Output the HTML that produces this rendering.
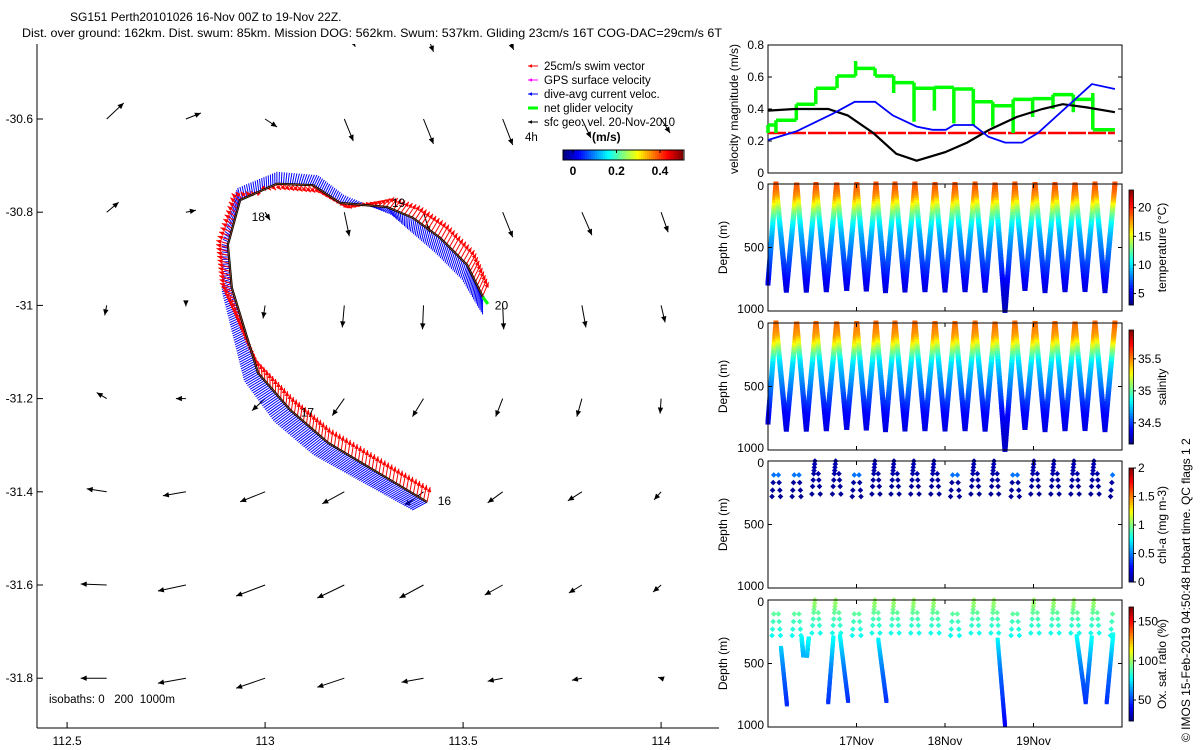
<!DOCTYPE html>
<html><head><meta charset="utf-8"><style>
html,body{margin:0;padding:0;background:#fff;}
svg{display:block;font-family:"Liberation Sans",Arial,sans-serif;}
</style></head><body>
<svg id="fig" width="1200" height="750" viewBox="0 0 1200 750" xmlns="http://www.w3.org/2000/svg">
<rect x="0" y="0" width="1200" height="750" fill="#fff"/>
<defs>
<clipPath id="mapclip"><rect x="37" y="44" width="682" height="684"/></clipPath>
</defs>
<text x="70" y="21" font-size="12">SG151 Perth20101026 16-Nov 00Z to 19-Nov 22Z.</text>
<text x="22" y="37" font-size="12" textLength="700" lengthAdjust="spacingAndGlyphs">Dist. over ground: 162km. Dist. swum: 85km. Mission DOG: 562km. Swum: 537km. Gliding 23cm/s 16T COG-DAC=29cm/s 6T</text>
<g id="map"></g>
<g id="right"></g>
<text transform="translate(1190,742) rotate(-90)" font-size="12">© IMOS 15-Feb-2019 04:50:48 Hobart time. QC flags 1  2</text>
</svg>
<script>
// ---------------- DATA ----------------
const lonTicks = [112.5, 113, 113.5, 114];
const latTicks = [-30.6, -30.8, -31, -31.2, -31.4, -31.6, -31.8];
const gridLon = [112.6,112.8,113.0,113.2,113.4,113.6,113.8,114.0];
const gridLat = [-30.4,-30.6,-30.8,-31.0,-31.2,-31.4,-31.6,-31.8];
const geoU = [
 [0,0,0,11,10,11,0,0],
 [17,15,12,9,10,10,9,9],
 [12,10,5,5,6,10,10,7],
 [-2,0,-2,-2,-1,1,4,4],
 [-10,-10,-13,-12,-11,-7,-5,-1],
 [-20,-23,-25,-22,-19,-15,-14,-7],
 [-26,-28,-29,-27,-24,-18,-13,-8],
 [-26,-28,-29,-27,-22,-15,-10,-3]];
const geoV = [
 [0,0,0,21,26,24,0,0],
 [-16,-6,8,22,25,26,19,14],
 [-10,-2,8,24,20,25,23,20],
 [10,1,13,22,24,24,22,17],
 [-6,0,12,17,18,18,18,15],
 [-3,4,10,12,14,11,9,8],
 [-1,6,11,13,13,10,8,7],
 [0,5,10,9,4,3,2,-1]];
const trackLon = [113.409,113.159,113.063,112.982,112.916,112.906,112.937,113.030,113.121,113.189,113.308,113.373,113.442,113.510,113.550];
const trackLat = [-31.422,-31.295,-31.224,-31.145,-30.962,-30.870,-30.774,-30.739,-30.742,-30.780,-30.789,-30.812,-30.855,-30.913,-30.982];
const dacU = [-15,-15,-16,-14,-10,-6,-3,0,5,4,5,-2,-5,-5,0];
const dacV = [8,12,12,8,4,-2,-12,-12,-10,-8,8,14,15,15,18];
const swimU = [3,2,2,-2,-12,-12,-8,6,8,10,8,8,8,8,6];
const swimV = [-15,-15,-14,-14,-4,-3,-8,6,8,6,-10,-12,-14,-14,-14];
const dayLabels = ["16","17","18","19","20"];
const dayLabelLon = [113.436,113.09,112.966,113.32,113.58];
const dayLabelLat = [-31.42,-31.23,-30.81,-30.78,-31.0];

const velTicks = [0,0.2,0.4,0.6,0.8];
const blackT = [0,0.3,0.68,0.9,1.19,1.45,1.68,2.0,2.25,2.5,2.81,3.1,3.33,3.6,3.92];
const blackV = [0.39,0.40,0.40,0.36,0.25,0.12,0.077,0.13,0.19,0.27,0.35,0.40,0.43,0.41,0.38];
const blueT = [0,0.32,0.73,0.98,1.21,1.41,1.68,1.86,2.01,2.1,2.32,2.49,2.68,2.87,3.05,3.66,3.92];
const blueV = [0.206,0.26,0.37,0.445,0.445,0.36,0.29,0.27,0.27,0.30,0.30,0.227,0.19,0.19,0.25,0.556,0.525];
const greenT0 = [0,0.09,0.32,0.54,0.78,0.99,1.21,1.42,1.65,1.88,2.1,2.32,2.54,2.77,2.99,3.22,3.45,3.67];
const greenT1 = [0.07,0.32,0.53,0.77,0.99,1.21,1.42,1.65,1.88,2.1,2.32,2.54,2.77,2.99,3.22,3.45,3.67,3.92];
const greenV = [0.30,0.33,0.43,0.53,0.606,0.654,0.606,0.565,0.53,0.535,0.525,0.445,0.42,0.46,0.465,0.49,0.46,0.27];
const greenSpike = [0.25,0.25,0.43,0.53,0.606,0.70,0.606,0.50,0.32,0.39,0.31,0.30,0.29,0.25,0.35,0.40,0.38,0.50];
const swimSpeed = 0.25;

const surfT = [0.09,0.324,0.542,0.776,1.002,1.22,1.435,1.66,1.887,2.113,2.34,2.566,2.79,3.017,3.243,3.469,3.695,3.92];
const troughD = [840,840,840,830,835,840,835,840,835,840,840,1000,830,840,840,835,840];
const startDepth = 780;
const depthTicks = [0,500,1000];
const dayTicks = ["17Nov","18Nov","19Nov"];
const dayTickT = [1,2,3];
const profD = [0,50,100,150,200,250,300,400,500,600,700,800,900,1000];
const tempP = [19,18.5,17.5,15.5,13.5,12,10.5,9,8,7,6,5,4.5,4];
const salP = [35.55,35.5,35.45,35.3,35.1,34.95,34.8,34.7,34.6,34.5,34.4,34.35,34.3,34.3];
const chlP = [0.1,0.1,0.08,0.06,0.05,0.05,0.04,0.04,0.04,0.04,0.04,0.04,0.04,0.04];
const oxP = [100,98,92,88,85,82,78,70,62,56,52,48,44,40];
const surfCol = [0,0,1,1,0,1,1,1,1,0,1,1,0,1,1,1,1,0];
const oxSegT0 = [0.147,0.38,0.44,0.68,0.814,1.246,2.595,3.488,3.59,3.827];
const oxSegT1 = [0.215,0.40,0.46,0.74,0.907,1.34,2.68,3.59,3.66,3.902];
const oxSegD0 = [377,300,440,805,285,312,312,285,805,805];
const oxSegD1 = [831,440,300,285,805,805,1000,805,285,260];
const cbTempTicks = [5,10,15,20];
const cbSalTicks = [34.5,35,35.5];
const cbChlTicks = [0,0.5,1,1.5,2];
const cbOxTicks = [50,100,150];
const cbMapTicks = [0,0.2,0.4];

// ---------------- HELPERS ----------------
const NS = "http://www.w3.org/2000/svg";
function mk(tag, attrs, parent) {
  const e = document.createElementNS(NS, tag);
  for (const k in attrs) e.setAttribute(k, attrs[k]);
  parent.appendChild(e);
  return e;
}
function jet(t) {
  t = Math.max(0, Math.min(1, t));
  const c = v => Math.round(255 * Math.max(0, Math.min(1, v)));
  return `rgb(${c(1.5 - Math.abs(4*t-3))},${c(1.5 - Math.abs(4*t-2))},${c(1.5 - Math.abs(4*t-1))})`;
}
function interp(xs, ys, x) {
  if (x <= xs[0]) return ys[0];
  for (let i = 1; i < xs.length; i++) if (x <= xs[i]) {
    const f = (x - xs[i-1]) / (xs[i] - xs[i-1]);
    return ys[i-1] + f * (ys[i] - ys[i-1]);
  }
  return ys[ys.length-1];
}
const mapX = lon => 37 + (lon - 112.424) * 396;
const mapY = lat => 119 + (-30.6 - lat) * 466;
function arrow(parent, x1, y1, x2, y2, color, hs, sw, name) {
  const g = mk('g', {}, parent);
  
  
  mk('line', {x1:x1, y1:y1, x2:x2, y2:y2, stroke:color, 'stroke-width':sw}, g);
  const L = Math.hypot(x2-x1, y2-y1);
  if (L < 0.5) return g;
  const ux = (x2-x1)/L, uy = (y2-y1)/L;
  const bx = x2 - ux*hs, by = y2 - uy*hs;
  mk('polygon', {points: `${x2},${y2} ${bx - uy*hs*0.45},${by + ux*hs*0.45} ${bx + uy*hs*0.45},${by - ux*hs*0.45}`, fill: color}, g);
  return g;
}

// ---------------- MAP ----------------
const map = document.getElementById('map');
const mapInner = mk('g', {'clip-path':'url(#mapclip)'}, map);
for (let r = 0; r < gridLat.length; r++) for (let c = 0; c < gridLon.length; c++) {
  const x = mapX(gridLon[c]), y = mapY(gridLat[r]);
  if (geoU[r][c] === 0 && geoV[r][c] === 0) continue;
  arrow(mapInner, x, y, x + geoU[r][c], y + geoV[r][c], '#000', 6, 1, 'geostrophic-arrow');
}
const tx = trackLon.map(mapX), ty = trackLat.map(mapY);
let segLen = [0];
for (let i = 1; i < tx.length; i++) segLen.push(segLen[i-1] + Math.hypot(tx[i]-tx[i-1], ty[i]-ty[i-1]));
const total = segLen[segLen.length-1];
const blueG = mk('g', {}, mapInner);


const redG = mk('g', {}, mapInner);


for (let s = 0; s <= total; s += 2.2) {
  const px = interp(segLen, tx, s), py = interp(segLen, ty, s);
  const u = interp(segLen, dacU, s), v = interp(segLen, dacV, s);
  mk('line', {x1:px, y1:py, x2:px+u, y2:py+v, stroke:'#0000ff', 'stroke-width':1}, blueG);
}
for (let s = 0; s <= total; s += 4) {
  const px = interp(segLen, tx, s), py = interp(segLen, ty, s);
  const u = interp(segLen, swimU, s), v = interp(segLen, swimV, s);
  arrow(redG, px, py, px+u, py+v, '#ff0000', 5, 1, 'swim-arrow');
}
const trk = mk('polyline', {points: tx.map((x,i)=>x+','+ty[i]).join(' '), fill:'none', stroke:'#000', 'stroke-width':2.2}, mapInner);


mk('polyline', {points: tx.map((x,i)=>x+','+ty[i]).join(' '), fill:'none', stroke:'#a0522d', 'stroke-width':0.7}, mapInner);
arrow(mapInner, tx[14], ty[14], tx[14]+5, ty[14]+7, '#00ff00', 4, 3, 'net-glider-velocity');
for (let i = 0; i < dayLabels.length; i++) {
  const t = mk('text', {x: mapX(dayLabelLon[i]), y: mapY(dayLabelLat[i]) + 4, 'font-size': 12}, map);
  
  
  t.textContent = dayLabels[i];
}
mk('line', {x1:37, y1:44, x2:37, y2:728, stroke:'#000'}, map);
mk('line', {x1:37, y1:728, x2:719, y2:728, stroke:'#000'}, map);
lonTicks.forEach(l => {
  const x = mapX(l);
  mk('line', {x1:x, y1:728, x2:x, y2:722, stroke:'#000'}, map);
  const t = mk('text', {x:x, y:745, 'font-size':12, 'text-anchor':'middle'}, map);
  
  
  t.textContent = l;
});
latTicks.forEach(l => {
  const y = mapY(l);
  mk('line', {x1:37, y1:y, x2:43, y2:y, stroke:'#000'}, map);
  const t = mk('text', {x:33, y:y+4, 'font-size':12, 'text-anchor':'end'}, map);
  
  
  t.textContent = l;
});
const iso = mk('text', {x:49, y:703, 'font-size':11.5}, map);


iso.textContent = 'isobaths: 0\u00a0\u00a0\u00a0200\u00a0\u00a01000m';
const legNames = ['25cm/s swim vector','GPS surface velocity','dive-avg current veloc.','net glider velocity','sfc geo. vel. 20-Nov-2010'];
const legCols = ['#ff0000','#ff00ff','#0000ff','#00ff00','#000000'];
const leg = mk('g', {}, map);


legNames.forEach((n, i) => {
  const y = 66 + i*14;
  arrow(leg, 538, y, 528, y, legCols[i], 4, i === 3 ? 3 : 1, 'legend-entry-marker');
  const t = mk('text', {x:544, y:y+4, 'font-size':11.5}, leg);
  
  
  t.textContent = n;
});
const h4 = mk('text', {x:525, y:141, 'font-size':11.5}, map);


h4.textContent = '4h';
const ms = mk('text', {x:592, y:141, 'font-size':12, 'font-weight':'bold'}, map);


ms.textContent = '(m/s)';
const mcb = mk('g', {}, map);


for (let i = 0; i < 60; i++) mk('rect', {x:563 + i*2, y:150, width:2.2, height:10, fill: jet(i/59)}, mcb);
mk('rect', {x:563, y:150, width:121, height:10, fill:'none', stroke:'#000'}, mcb);
cbMapTicks.forEach(v => {
  const x = 573 + v/0.2*43.5;
  mk('line', {x1:x, y1:150, x2:x, y2:153, stroke:'#000'}, mcb);
  const t = mk('text', {x:x, y:175, 'font-size':12, 'font-weight':'bold', 'text-anchor':'middle'}, mcb);
  
  
  t.textContent = v;
});

// ---------------- RIGHT PANELS ----------------
const R = document.getElementById('right');
const X0 = 768, X1 = 1122, PXD = 88.5;
const tx2 = t => X0 + t * PXD;
const vp = mk('g', {}, R);


const vy = v => 173 - v * 160;
mk('rect', {x:X0, y:45, width:X1-X0, height:128, fill:'none', stroke:'#000'}, vp);
velTicks.forEach(v => {
  mk('line', {x1:X0, y1:vy(v), x2:X0+4, y2:vy(v), stroke:'#000'}, vp);
  mk('line', {x1:X1, y1:vy(v), x2:X1-4, y2:vy(v), stroke:'#000'}, vp);
  const t = mk('text', {x:764, y:vy(v)+4, 'font-size':12, 'text-anchor':'end'}, vp);
  
  
  t.textContent = v;
});
const vl = mk('text', {transform:'translate(738,109) rotate(-90)', 'font-size':12, 'text-anchor':'middle'}, vp);


vl.textContent = 'velocity magnitude (m/s)';
const rl = mk('line', {x1:tx2(0), y1:vy(swimSpeed), x2:tx2(3.92), y2:vy(swimSpeed), stroke:'#ff0000', 'stroke-width':2.5, 'stroke-dasharray':'18 2'}, vp);


let gp = '';
greenV.forEach((v, i) => {
  gp += `M${tx2(greenT0[i])},${vy(v)} L${tx2(greenT1[i])},${vy(v)} `;
  gp += `M${tx2(greenT0[i])},${vy(v)} L${tx2(greenT0[i])},${vy(greenSpike[i])} `;
  if (i > 0 && Math.abs(greenT1[i-1]-greenT0[i]) < 0.02) gp += `M${tx2(greenT0[i])},${vy(greenV[i-1])} L${tx2(greenT0[i])},${vy(v)} `;
});
const gl = mk('path', {d:gp, stroke:'#00ff00', 'stroke-width':3.5, fill:'none'}, vp);


const bk = mk('polyline', {points: blackT.map((t,i)=>tx2(t)+','+vy(blackV[i])).join(' '), fill:'none', stroke:'#000', 'stroke-width':2.2}, vp);


const bl = mk('polyline', {points: blueT.map((t,i)=>tx2(t)+','+vy(blueV[i])).join(' '), fill:'none', stroke:'#0000ff', 'stroke-width':1.8}, vp);



const vT = [0], vD = [startDepth];
surfT.forEach((s, i) => {
  vT.push(s); vD.push(0);
  if (i < troughD.length) { vT.push((s + surfT[i+1]) / 2); vD.push(troughD[i]); }
});
const tops = [184, 323, 461, 600];
const cbs = [
 {name:'temperature', label:'temperature (°C)', lo:3.0, hi:23.1, ticks:cbTempTicks, top:190, bot:305, prof:tempP},
 {name:'salinity', label:'salinity', lo:34.17, hi:35.95, ticks:cbSalTicks, top:330, bot:444, prof:salP},
 {name:'chl', label:'chl-a (mg m-3)', lo:0, hi:2, ticks:cbChlTicks, top:468, bot:582, prof:chlP},
 {name:'oxygen', label:'Ox. sat. ratio (%)', lo:23.2, hi:168.8, ticks:cbOxTicks, top:607, bot:721, prof:oxP}];
cbs.forEach((cb, k) => {
  const top = tops[k], H = 127;
  const dy = d => top + d / 1000 * H;
  const P = mk('g', {}, R);
  
  
  const col = d => jet((interp(profD, cb.prof, d) - cb.lo) / (cb.hi - cb.lo));
  const pts = mk('g', {}, P);
  
  
  if (k < 2) {
    for (let t = 0; t <= 3.92; t += 0.0025) {
      const d = interp(vT, vD, t);
      mk('rect', {x: tx2(t)-2.5, y: dy(d)-2.5, width:5, height:5, fill: col(d)}, pts);
    }
  } else {
    surfT.forEach((s, i) => {
      const depths = surfCol[i] ? [0,25,50,75,100,150,200,260] : [110,170,230,280];
      depths.forEach((d, j) => {
        [-1, 1].forEach(side => {
          if (side === 1 && surfCol[i] && d < 100) return;
          const idx = vT.indexOf(s);
          const nb = vT[idx + side];
          if (nb === undefined) return;
          const f = d / interp(vT, vD, nb);
          const t = s + (nb - s) * f + side * 0.012;
          let c;
          if (k === 2) c = jet((interp(profD, chlP, d) + (d > 90 && d < 130 && j % 3 === 0 ? 0.4 : 0) - cb.lo) / (cb.hi - cb.lo));
          else c = jet((interp(profD, oxP, d) - cb.lo) / (cb.hi - cb.lo));
          const x = tx2(t), y = dy(d);
          mk('polygon', {points:`${x},${y-2.8} ${x+2.8},${y} ${x},${y+2.8} ${x-2.8},${y}`, fill:c}, pts);
        });
      });
    });
    if (k === 3) {
      oxSegT0.forEach((t0, i) => {
        for (let f = 0; f <= 1; f += 0.02) {
          const t = t0 + (oxSegT1[i]-t0)*f, d = oxSegD0[i] + (oxSegD1[i]-oxSegD0[i])*f;
          mk('rect', {x: tx2(t)-2, y: dy(d)-2, width:4, height:4, fill: col(d)}, pts);
        }
      });
    }
  }
  mk('rect', {x:X0, y:top, width:X1-X0, height:H, fill:'none', stroke:'#000'}, P);
  depthTicks.forEach(d => {
    mk('line', {x1:X0, y1:dy(d), x2:X0+4, y2:dy(d), stroke:'#000'}, P);
    mk('line', {x1:X1, y1:dy(d), x2:X1-4, y2:dy(d), stroke:'#000'}, P);
    const t = mk('text', {x:764, y:dy(d)+(d===0?6:d===1000?2:4), 'font-size':12, 'text-anchor':'end'}, P);
    
    
    t.textContent = d;
  });
  dayTickT.forEach(t => {
    mk('line', {x1:tx2(t), y1:top+H, x2:tx2(t), y2:top+H-4, stroke:'#000'}, P);
    mk('line', {x1:tx2(t), y1:top, x2:tx2(t), y2:top+4, stroke:'#000'}, P);
  });
  const yl = mk('text', {transform:`translate(727,${top+H/2}) rotate(-90)`, 'font-size':12, 'text-anchor':'middle'}, P);
  
  
  yl.textContent = 'Depth (m)';
  const C = mk('g', {}, P);
  
  
  const n = 40, hh = (cb.bot - cb.top) / n;
  for (let i = 0; i < n; i++) mk('rect', {x:1129, y:cb.bot - (i+1)*hh, width:4.5, height:hh+0.3, fill: jet((i+0.5)/n)}, C);
  mk('rect', {x:1129, y:cb.top, width:4.5, height:cb.bot-cb.top, fill:'none', stroke:'#000', 'stroke-width':0.8}, C);
  cb.ticks.forEach(v => {
    const y = cb.bot - (v - cb.lo) / (cb.hi - cb.lo) * (cb.bot - cb.top);
    mk('line', {x1:1133.5, y1:y, x2:1136, y2:y, stroke:'#000'}, C);
    const t = mk('text', {x:1138, y:y+4, 'font-size':12}, C);
    
    
    t.textContent = v;
  });
  const cl = mk('text', {transform:`translate(1166,${(cb.top+cb.bot)/2}) rotate(-90)`, 'font-size':12, 'text-anchor':'middle'}, C);
  
  
  cl.textContent = cb.label;
});
dayTicks.forEach((d, i) => {
  const t = mk('text', {x:tx2(dayTickT[i]), y:745, 'font-size':12, 'text-anchor':'middle'}, R);
  
  
  t.textContent = d;
});
</script>
</body></html>
